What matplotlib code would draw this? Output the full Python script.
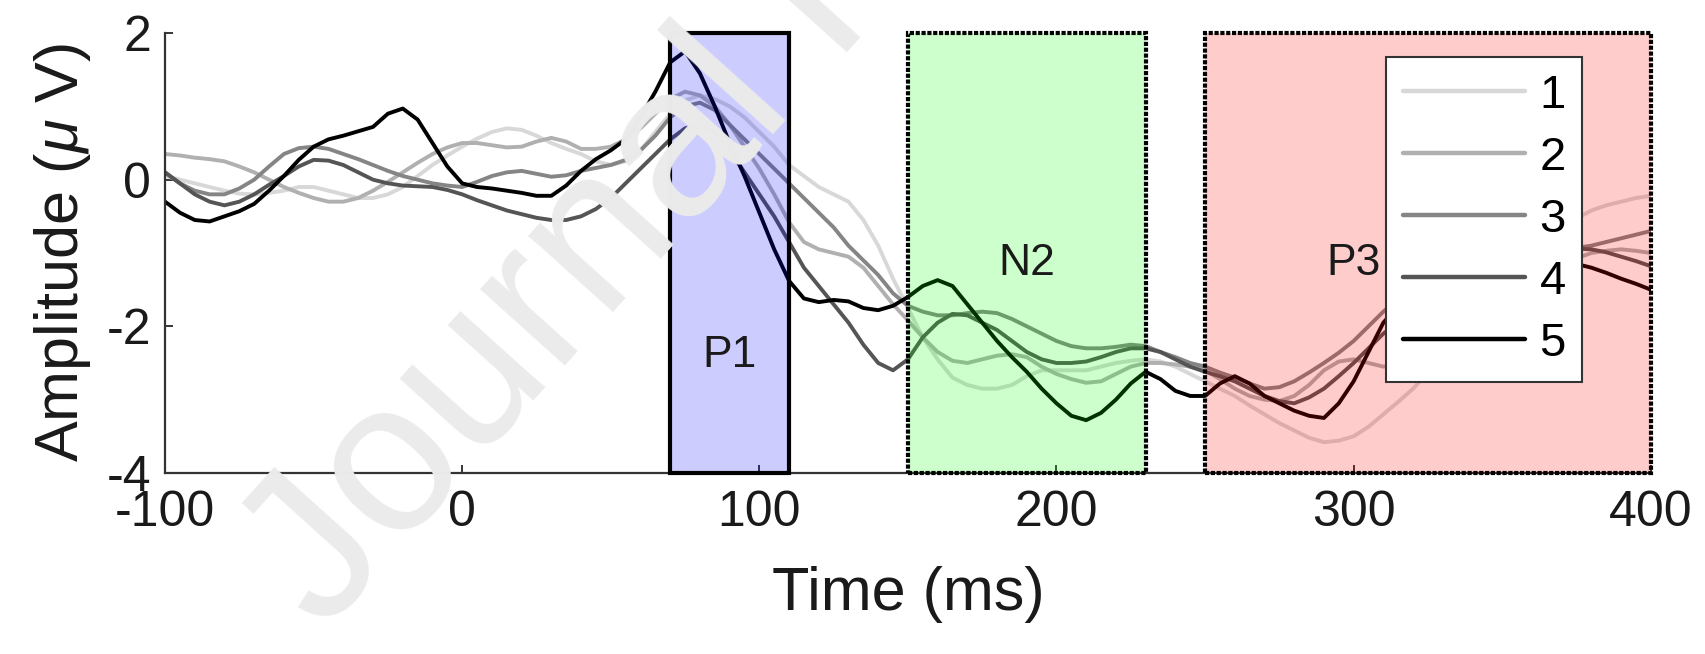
import matplotlib
matplotlib.use('Agg')
import matplotlib.pyplot as plt
from matplotlib.patches import Rectangle

plt.rcParams['font.family'] = ['Liberation Sans', 'DejaVu Sans']
plt.rcParams['mathtext.fontset'] = 'custom'
plt.rcParams['mathtext.it'] = 'Liberation Sans:italic'
plt.rcParams['mathtext.rm'] = 'Liberation Sans'
plt.rcParams['axes.unicode_minus'] = False

# sampling grid: every 5 ms from -100 to 400
time_ms = list(range(-100, 405, 5))

amp_1 = [0.05, 0.0, -0.05, -0.1, -0.15, -0.19, -0.2, -0.18, -0.15, -0.1,
         -0.1, -0.15, -0.2, -0.25, -0.25, -0.2, -0.1, 0.05, 0.2, 0.33,
         0.45, 0.56, 0.65, 0.7, 0.68, 0.6, 0.5, 0.42, 0.35, 0.25,
         0.2, 0.25, 0.4, 0.65, 0.9, 1.08, 1.15, 1.1, 1.0, 0.85,
         0.65, 0.45, 0.2, 0.05, -0.1, -0.2, -0.3, -0.55, -0.9, -1.35,
         -1.75, -2.15, -2.45, -2.7, -2.8, -2.85, -2.85, -2.8, -2.68, -2.6,
         -2.6, -2.6, -2.6, -2.55, -2.5, -2.47, -2.45, -2.48, -2.55, -2.65,
         -2.75, -2.85, -2.95, -3.08, -3.2, -3.32, -3.42, -3.52, -3.58, -3.56,
         -3.5, -3.37, -3.2, -3.03, -2.85, -2.63, -2.4, -2.18, -1.95, -1.72,
         -1.5, -1.27, -1.05, -0.85, -0.68, -0.53, -0.42, -0.35, -0.3, -0.25,
         -0.22]

amp_2 = [0.35, 0.33, 0.3, 0.28, 0.25, 0.18, 0.1, 0.0, -0.1, -0.18,
         -0.25, -0.3, -0.3, -0.25, -0.15, -0.03, 0.1, 0.23, 0.35, 0.44,
         0.5, 0.5, 0.47, 0.44, 0.45, 0.52, 0.57, 0.52, 0.42, 0.42,
         0.45, 0.55, 0.7, 0.9, 1.1, 1.2, 1.15, 1.0, 0.75, 0.45,
         0.15, -0.2, -0.58, -0.85, -0.95, -1.0, -1.05, -1.2, -1.45, -1.7,
         -1.92, -2.15, -2.35, -2.47, -2.5, -2.45, -2.4, -2.38, -2.42, -2.55,
         -2.65, -2.72, -2.77, -2.75, -2.65, -2.55, -2.5, -2.5, -2.52, -2.55,
         -2.6, -2.72, -2.85, -2.95, -3.0, -3.02, -2.95, -2.8, -2.6, -2.48,
         -2.45, -2.5, -2.55, -2.52, -2.45, -2.33, -2.2, -2.05, -1.9, -1.75,
         -1.6, -1.47, -1.35, -1.25, -1.15, -1.07, -1.0, -0.97, -0.95, -0.97,
         -1.0]

amp_3 = [0.1, -0.05, -0.15, -0.2, -0.2, -0.12, 0.0, 0.18, 0.35, 0.43,
         0.45, 0.42, 0.35, 0.28, 0.2, 0.12, 0.05, 0.0, -0.05, -0.08,
         -0.1, -0.03, 0.05, 0.1, 0.12, 0.08, 0.04, 0.06, 0.12, 0.16,
         0.2, 0.27, 0.4, 0.6, 0.85, 1.0, 1.05, 0.95, 0.75, 0.55,
         0.35, 0.15, -0.05, -0.25, -0.45, -0.65, -0.9, -1.1, -1.3, -1.55,
         -1.72, -1.8, -1.85, -1.85, -1.82, -1.8, -1.82, -1.9, -2.0, -2.1,
         -2.2, -2.27, -2.3, -2.3, -2.28, -2.25, -2.27, -2.35, -2.42, -2.5,
         -2.55, -2.63, -2.7, -2.78, -2.85, -2.83, -2.75, -2.63, -2.5, -2.36,
         -2.2, -2.0, -1.8, -1.63, -1.5, -1.39, -1.3, -1.23, -1.18, -1.12,
         -1.08, -1.04, -1.0, -0.97, -0.95, -0.93, -0.9, -0.85, -0.8, -0.75,
         -0.7]

amp_4 = [0.1, -0.05, -0.2, -0.3, -0.35, -0.3, -0.2, -0.07, 0.05, 0.18,
         0.27, 0.26, 0.2, 0.1, 0.0, -0.05, -0.08, -0.09, -0.1, -0.14,
         -0.2, -0.28, -0.35, -0.42, -0.47, -0.52, -0.55, -0.55, -0.5, -0.4,
         -0.25, -0.05, 0.15, 0.35, 0.55, 0.7, 0.75, 0.65, 0.4, 0.1,
         -0.2, -0.5, -0.85, -1.2, -1.45, -1.7, -1.95, -2.25, -2.5, -2.6,
         -2.45, -2.15, -1.95, -1.83, -1.85, -1.95, -2.05, -2.2, -2.35, -2.45,
         -2.5, -2.5, -2.48, -2.42, -2.35, -2.3, -2.3, -2.35, -2.45, -2.55,
         -2.62, -2.68, -2.75, -2.85, -2.95, -3.02, -3.05, -2.97, -2.85, -2.68,
         -2.5, -2.3, -2.1, -1.94, -1.8, -1.67, -1.55, -1.45, -1.35, -1.27,
         -1.2, -1.12, -1.05, -1.0, -0.95, -0.94, -0.95, -0.99, -1.05, -1.11,
         -1.18]

amp_5 = [-0.3, -0.45, -0.55, -0.57, -0.5, -0.43, -0.33, -0.15, 0.05, 0.27,
         0.45, 0.55, 0.6, 0.66, 0.72, 0.9, 0.97, 0.82, 0.5, 0.18,
         -0.05, -0.1, -0.12, -0.15, -0.18, -0.22, -0.22, -0.08, 0.12, 0.28,
         0.4, 0.55, 0.85, 1.2, 1.6, 1.75, 1.45, 1.0, 0.5, 0.05,
         -0.45, -0.95, -1.38, -1.62, -1.67, -1.64, -1.66, -1.75, -1.78, -1.72,
         -1.6, -1.45, -1.37, -1.45, -1.7, -1.95, -2.2, -2.42, -2.62, -2.85,
         -3.05, -3.22, -3.28, -3.18, -3.0, -2.78, -2.62, -2.72, -2.88, -2.95,
         -2.95, -2.78, -2.68, -2.78, -2.95, -3.05, -3.15, -3.22, -3.25, -3.05,
         -2.75, -2.35, -1.95, -1.72, -1.55, -1.42, -1.3, -1.22, -1.15, -1.1,
         -1.08, -1.07, -1.08, -1.1, -1.12, -1.15, -1.2, -1.27, -1.35, -1.42,
         -1.5]

series = [amp_1, amp_2, amp_3, amp_4, amp_5]
labels = ['1', '2', '3', '4', '5']
grays = ['#d8d8d8', '#b0b0b0', '#858585', '#555555', '#000000']

# component windows (ms)
win_names = ['P1', 'N2', 'P3']
win_start = [70, 150, 250]
win_end = [110, 230, 400]
win_face = [(0, 0, 1, 0.2), (0, 1, 0, 0.2), (1, 0, 0, 0.2)]
win_style = ['-', (0, (1.0, 0.4)), (0, (1.0, 0.4))]
win_label_x = [90, 190, 300]
win_label_y = [-2.4, -1.15, -1.15]

fig = plt.figure(figsize=(17.05, 6.54), dpi=100)

# faint watermark behind everything
fig.text(0.19, 0.03, 'Journal Pre-proof', fontsize=155, color='#ebebeb',
         rotation=48, rotation_mode='anchor', ha='left', va='baseline', zorder=0)

ax = fig.add_axes([0.0968, 0.2768, 0.8714, 0.6727])
ax.set_facecolor('none')

for y, lab, c in zip(series, labels, grays):
    ax.plot(time_ms, y, color=c, lw=2.8, label=lab, zorder=2, solid_capstyle='round')

for name, s, e, fc, ls, lx, ly in zip(win_names, win_start, win_end, win_face,
                                       win_style, win_label_x, win_label_y):
    ax.add_patch(Rectangle((s, -4), e - s, 6, facecolor=fc, edgecolor='black',
                           lw=3, linestyle=ls, zorder=3, clip_on=False))
    ax.text(lx, ly, name, fontsize=32, color='#1a1a1a', ha='center', va='center', zorder=4)

ax.set_xlim(-100, 400)
ax.set_ylim(-4, 2)
ax.set_xticks([-100, 0, 100, 200, 300, 400])
ax.set_yticks([-4, -2, 0, 2])
ax.tick_params(direction='in', length=6, width=1.3, labelsize=36, pad=12, colors='#262626')
ax.tick_params(axis='x', labelcolor='#1a1a1a')
ax.tick_params(axis='y', labelcolor='#1a1a1a', pad=10)
for side in ['top', 'right']:
    ax.spines[side].set_visible(False)
for side in ['left', 'bottom']:
    ax.spines[side].set_linewidth(1.6)
    ax.spines[side].set_color('#333333')

ax.set_xlabel('Time (ms)', fontsize=44, labelpad=22, color='#1a1a1a')
ax.set_ylabel(r'Amplitude ($\mu$ V)', fontsize=44, labelpad=10, color='#1a1a1a')

leg = ax.legend(loc='upper right', bbox_to_anchor=(0.954, 0.945), borderaxespad=0,
                fontsize=34, handlelength=2.6, handletextpad=0.3, labelspacing=0.38,
                borderpad=0.35, fancybox=False, framealpha=1, edgecolor='#333333')
leg.get_frame().set_linewidth(1.5)
leg.set_zorder(5)
for ln in leg.get_lines():
    ln.set_linewidth(3.2)

fig.savefig('out.png', dpi=100)
